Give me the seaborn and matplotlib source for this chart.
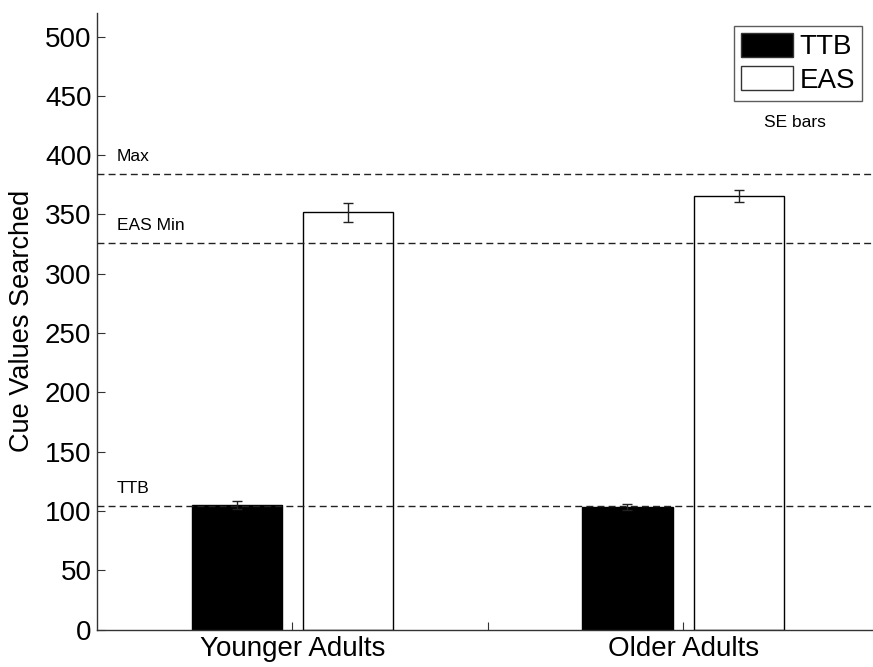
import matplotlib
matplotlib.use("Agg")
import matplotlib.pyplot as plt
import seaborn as sns
import pandas as pd
import numpy as np

# ---- data ----
groups = ["Younger Adults", "Older Adults"]
strategies = ["TTB", "EAS"]
ttb_means = [105, 103]
eas_means = [352, 365.5]
ttb_se = [3.7, 2.5]
eas_se = [8, 4.9]
ref_names = ["Max", "EAS Min", "TTB"]
ref_values = [384, 326, 104.5]
yticks = [0, 50, 100, 150, 200, 250, 300, 350, 400, 450, 500]

df = pd.DataFrame({
    "group": groups * 2,
    "strategy": ["TTB"] * 2 + ["EAS"] * 2,
    "value": ttb_means + eas_means,
})

sns.set_style("white")
plt.rcParams["font.family"] = ["Liberation Sans", "DejaVu Sans"]
plt.rcParams["text.color"] = "black"
plt.rcParams["axes.labelcolor"] = "black"
plt.rcParams["xtick.color"] = "black"
plt.rcParams["ytick.color"] = "black"

W, H = 873, 667
fig = plt.figure(figsize=(W / 100, H / 100), dpi=100)
ax = fig.add_axes([97 / W, 1 - 629.5 / H, (878.5 - 97) / W, (629.5 - 12.8) / H])

sns.barplot(data=df, x="group", y="value", hue="strategy", order=groups,
            hue_order=strategies, palette=["black", "white"], width=0.57,
            gap=0.19, edgecolor="black", linewidth=1.0, errorbar=None,
            saturation=1, ax=ax, zorder=2)

# error bars
ses = {"TTB": ttb_se, "EAS": eas_se}
for cont, strat in zip(ax.containers, strategies):
    xs = [b.get_x() + b.get_width() / 2 for b in cont]
    ys = [b.get_height() for b in cont]
    ax.errorbar(xs, ys, yerr=ses[strat], fmt="none", ecolor="#222222",
                elinewidth=1.0, capsize=3.6, capthick=1.0, zorder=4)

# reference lines
for name, val in zip(ref_names, ref_values):
    ax.axhline(val, color="#222222", lw=1.0, linestyle=(0, (5, 3)), zorder=3)
    ax.text(-0.45, val + 11, name, fontsize=12.5, ha="left", va="baseline",
            color="black")

ax.text(1.285, 424, "SE bars", fontsize=12.5, ha="center", va="baseline",
        color="black")

ax.set_xlim(-0.5, 1.5)
ax.set_ylim(0, 520)
ax.set_yticks(yticks)
ax.set_yticklabels([str(t) for t in yticks])
ax.set_xticks([0, 0.5, 1])
ax.set_xticklabels(["Younger Adults", "", "Older Adults"])
ax.set_xlabel("")
ax.set_ylabel("Cue Values Searched", fontsize=19.5, labelpad=7, color="black")

ax.tick_params(axis="both", direction="in", length=6, width=0.8,
               color="#333333", labelcolor="black", labelsize=20,
               bottom=True, left=True, top=False, right=False)
ax.tick_params(axis="y", pad=4)
ax.tick_params(axis="x", pad=5)
for s in ["top", "right"]:
    ax.spines[s].set_visible(False)
for s in ["left", "bottom"]:
    ax.spines[s].set_color("#333333")
    ax.spines[s].set_linewidth(1.0)

handles, labels = ax.get_legend_handles_labels()
leg = ax.legend(handles, labels, loc="upper right",
                bbox_to_anchor=(862 / W, 1 - 26 / H),
                bbox_transform=fig.transFigure, borderaxespad=0,
                fontsize=20, frameon=True, fancybox=False,
                handlelength=1.86, handleheight=0.95, handletextpad=0.25,
                borderpad=0.25, labelspacing=0.2, title=None)
leg.get_frame().set_edgecolor("#333333")
leg.get_frame().set_linewidth(1.0)
for t in leg.get_texts():
    t.set_color("black")
for h in leg.legend_handles:
    h.set_edgecolor("#333333")

fig.savefig("out.png", dpi=100)
